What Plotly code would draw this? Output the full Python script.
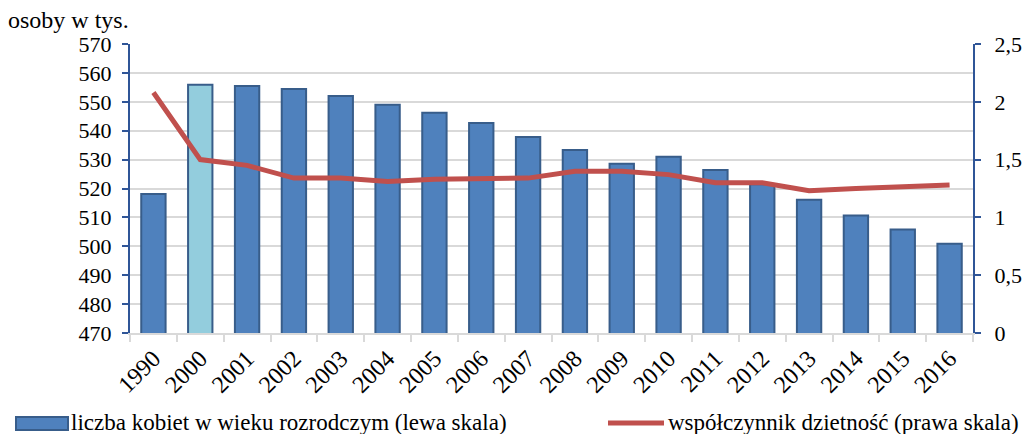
import plotly.graph_objects as go

years = ["1990", "2000", "2001", "2002", "2003", "2004", "2005", "2006", "2007",
         "2008", "2009", "2010", "2011", "2012", "2013", "2014", "2015", "2016"]
women = [518.1, 555.9, 555.5, 554.4, 552.0, 549.0, 546.2, 542.7, 537.8,
         533.3, 528.6, 531.0, 526.4, 521.5, 516.1, 510.7, 505.8, 500.9]
fertility = [2.08, 1.50, 1.45, 1.34, 1.34, 1.31, 1.33, 1.33, 1.34,
             1.40, 1.40, 1.37, 1.30, 1.30, 1.23, 1.25, 1.26, 1.28]
bar_name = "liczba kobiet w wieku rozrodczym (lewa skala)"
line_name = "współczynnik dzietność (prawa skala)"
title_text = "osoby w tys."

# page body has an 8px margin; figure is drawn offset by it
OFF = 8
W, H = 1035 - OFF, 434 - OFF
# target plot area in page pixels: x 130..973, y 44..333
ML, MR, MT, MB = 130 - OFF, 62, 44 - OFF, 101
PW, PH = W - ML - MR, H - MT - MB

def px(x):
    return (x - OFF - ML) / PW

def py(y):
    return (H - MB - (y - OFF)) / PH

FONT = "Times New Roman, Liberation Serif, serif"
AXIS_BLUE = "#2f5597"
GRID = "#d9d9d9"
BAR = "#4f81bd"
BAR_EDGE = "#385d8a"
BAR_2000 = "#93cddd"
LINE = "#c0504d"

bar_colors = [BAR_2000 if y == "2000" else BAR for y in years]

fig = go.Figure()
fig.add_trace(go.Bar(
    x=years, y=women, name=bar_name, marker_color=bar_colors,
    marker_line_color=BAR_EDGE, marker_line_width=2, width=0.52,
    showlegend=False, yaxis="y"))
fig.add_trace(go.Scatter(
    x=years, y=fertility, name=line_name, mode="lines",
    line=dict(color=LINE, width=5), showlegend=False, yaxis="y2"))

tick_font = dict(family=FONT, size=22, color="#000000")

fig.update_layout(
    width=W, height=H,
    margin=dict(l=ML, r=MR, t=MT, b=MB, pad=0),
    paper_bgcolor="white", plot_bgcolor="white",
    separators=", ",
    font=dict(family=FONT, size=22, color="#000000"),
    xaxis=dict(
        type="category", tickangle=-45, tickfont=dict(family=FONT, size=24, color="#000"),
        showline=True, linecolor=GRID, linewidth=2,
        ticks="outside", tickson="boundaries", ticklen=7, tickcolor=GRID, tickwidth=2,
        showgrid=False, range=[-0.5, 17.5]),
    yaxis=dict(
        range=[470, 570], dtick=10, tickfont=tick_font,
        showline=True, linecolor=AXIS_BLUE, linewidth=2,
        ticks="outside", ticklen=6, tickcolor=AXIS_BLUE, tickwidth=2,
        ticklabelstandoff=6,
        showgrid=True, gridcolor=GRID, gridwidth=2, zeroline=False),
    yaxis2=dict(
        range=[0, 2.5], dtick=0.5, tickfont=tick_font, overlaying="y", side="right",
        showline=True, linecolor=AXIS_BLUE, linewidth=2,
        ticks="outside", ticklen=6, tickcolor=AXIS_BLUE, tickwidth=2,
        ticklabelstandoff=9,
        showgrid=False, zeroline=False),
    showlegend=False,
)

# title
fig.add_annotation(text=title_text, xref="paper", yref="paper",
                   x=px(6), y=py(20), xanchor="left", yanchor="middle",
                   showarrow=False, font=dict(family=FONT, size=24, color="#000"))

# manual legend
fig.add_shape(type="rect", xref="paper", yref="paper",
              x0=px(16), x1=px(68), y0=py(430), y1=py(417),
              fillcolor=BAR, line=dict(color=BAR_EDGE, width=2))
fig.add_annotation(text=bar_name, xref="paper", yref="paper",
                   x=px(69), y=py(422), xanchor="left", yanchor="middle",
                   showarrow=False, font=dict(family=FONT, size=23, color="#000"))
fig.add_shape(type="line", xref="paper", yref="paper",
              x0=px(608), x1=px(664), y0=py(423), y1=py(423),
              line=dict(color=LINE, width=5))
fig.add_annotation(text=line_name, xref="paper", yref="paper",
                   x=px(666), y=py(422), xanchor="left", yanchor="middle",
                   showarrow=False, font=dict(family=FONT, size=23, color="#000"))

fig.write_html("out.html")
